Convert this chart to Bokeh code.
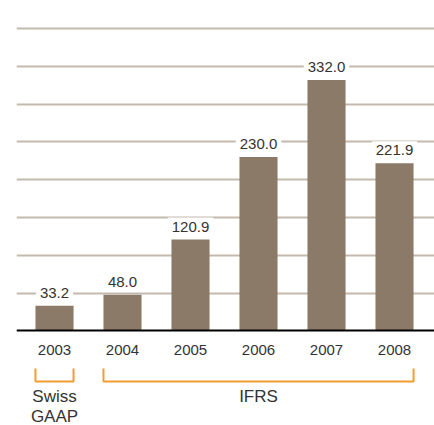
from bokeh.plotting import figure
from bokeh.models import Range1d, FixedTicker, ColumnDataSource
from bokeh.core.properties import value
from bokeh.embed import file_html
from bokeh.resources import INLINE

years = ["2003", "2004", "2005", "2006", "2007", "2008"]
values = [33.2, 48.0, 120.9, 230.0, 332.0, 221.9]
labels = ["33.2", "48.0", "120.9", "230.0", "332.0", "221.9"]
grid_ticks = [50, 100, 150, 200, 250, 300, 350, 400]
groups = ["Swiss\nGAAP", "IFRS"]
group_first = [0, 1]
group_last = [0, 5]

FONT = "Liberation Sans"
BAR = "#8b7a67"
GRID = "#c3b9ad"
ORANGE = "#f39c30"
BW = 0.56

xs = list(range(len(years)))
p = figure(width=434, height=425, output_backend="svg", toolbar_location=None,
           tools="", x_range=Range1d(-0.5588, 5.588), y_range=Range1d(-125.0, 437.0),
           min_border_left=16, min_border_right=0, min_border_top=0, min_border_bottom=0)
p.outline_line_color = None
p.background_fill_color = "white"
p.border_fill_color = "white"

p.yaxis.visible = False
p.xgrid.visible = False
p.ygrid.ticker = FixedTicker(ticks=grid_ticks)
p.ygrid.grid_line_color = GRID
p.ygrid.grid_line_width = 2

ax = p.xaxis[0]
ax.fixed_location = 0
ax.ticker = FixedTicker(ticks=xs)
ax.major_label_overrides = {i: y for i, y in enumerate(years)}
ax.axis_line_color = "black"
ax.axis_line_width = 2
ax.major_tick_line_color = None
ax.minor_tick_line_color = None
ax.major_label_standoff = 8
ax.major_label_text_font = FONT
ax.major_label_text_font_size = "15px"
ax.major_label_text_color = "#333333"

src = ColumnDataSource(dict(x=xs, top=values, label=labels))
p.vbar(x="x", top="top", bottom=0, width=BW, source=src, fill_color=BAR, line_color=None)

p.text(x="x", y="top", text="label", source=src, text_align="center",
       text_baseline="middle", y_offset=-13, text_font=value(FONT),
       text_font_size="15px", text_color="#333333",
       background_fill_color="white", padding=4)

# group brackets
for f, l in zip(group_first, group_last):
    a = f - BW / 2
    b = l + BW / 2
    p.multi_line(xs=[[a, a, b, b]], ys=[[-49.6, -66.8, -66.8, -49.6]],
                 line_color=ORANGE, line_width=2)
cx = [(f + l) / 2 for f, l in zip(group_first, group_last)]
p.text(x=cx, y=[-73.5, -73.5], text=groups, text_align="center", text_baseline="top",
       text_font=value(FONT), text_font_size="17px", text_color="#333333",
       text_line_height=1.08)

open("out.html", "w").write(file_html(p, INLINE))
